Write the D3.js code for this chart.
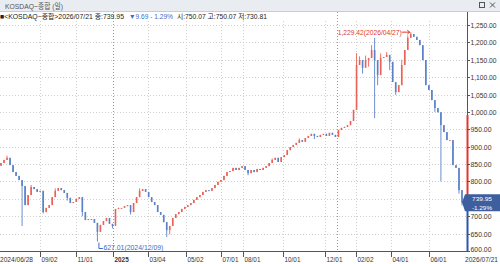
<!DOCTYPE html>
<html><head><meta charset="utf-8">
<script src="https://cdn.jsdelivr.net/npm/d3@7"></script>
<style>
html,body{margin:0;padding:0;background:#fff;overflow:hidden;}
svg{display:block;}
text{font-family:"Liberation Sans","Noto Sans CJK KR",sans-serif;}
</style></head><body>
<svg id="c" width="500" height="264"></svg>
<script>
// ---- data (periods of ~3.4 trading days, 2024/06/28 .. 2026/07/21) ----
const closes = [853,862,868,847,827,816,804,787,732,761,784,778,770,773,712,724,732,755,773,781,
775,767,753,738,741,750,755,712,689,692,692,681,655,675,686,695,678,672,721,724,
724,729,732,712,738,755,773,778,770,755,741,732,712,704,683,660,672,695,706,712,
721,727,732,738,747,755,761,770,775,773,781,790,799,804,816,827,830,839,833,839,
844,833,824,833,827,836,833,839,844,853,862,868,856,870,876,890,899,905,911,919,
914,925,931,937,931,928,934,937,931,940,934,928,948,954,957,962,974,1006,1135,1149,
1127,1149,1155,1178,1149,1106,1155,1158,1164,1144,1086,1057,1077,1135,1178,1213,1224,1216,1207,1192,
1149,1077,1063,1034,1011,999,962,942,919,919,847,839,775,739.95];
const firstOpen = 845;
const spikeHighs = [[2,874],[10,790],[18,780],[46,780],[90,866],[99,924],[118,1169],[119,1160],[121,1162],
  [123,1192],[124,1213],[126,1168],[128,1172],[133,1150],[135,1220],[136,1229.42],[141,1100],[146,975],[150,905]];
const spikeLows = [[7,672],[14,708],[22,745],[27,700],[32,627.01],[37,665],[43,705],[55,640],[56,648],
  [82,818],[104,922],[120,1110],[122,1130],[124,982],[125,1077],[129,1120],[131,1049],[144,1000],[146,800],[152,765],[153,730.81]];
const yTicks = [600,650,700,750,800,850,900,950,1000,1050,1100,1150,1200,1250];
const xTickLabels = ["09/02","11/01","2025","03/04","05/02","07/01","08/01","10/01","12/01","02/02","04/01","06/01"];
const xTickPos = [12.94,24.89,37.17,48.79,61.40,73.02,80.32,93.59,107.53,117.82,129.44,142.05];
const yearLinePos = [37.17,111.52];
const firstDateLabel = "2024/06/28";
const lastDateLabel = "2026/07/21";
const highPoint = {idx:136, value:1229.42, label:"1,229.42(2026/04/27)"};
const lowPoint = {idx:32, value:627.01, label:"627.01(2024/12/09)"};
const lastClose = 739.95, lastPct = "-1.29%";
const axisRedFrom = 991;
const titleText = "KOSDAQ\u2212종합 (일)";
const infoParts = [["■<KOSDAQ\u2212종합>2026/07/21 종:739.95","#222"],["▼9.69 - 1.29%","#3a6cc8"],["시:750.07 고:750.07 저:730.81","#222"]];

// ---- drawing ----
const svg = d3.select("#c");
const N = closes.length;
const x = d3.scaleLinear().domain([0, N-1]).range([1, 462]);
const y = d3.scaleLinear().domain([600, 1250]).range([251, 25]);
const AX = 467;
const red = "#ea6155", blue = "#5a80c8";
function fit(sel, w){ sel.attr("textLength", w).attr("lengthAdjust","spacingAndGlyphs"); }
function condense(sel, f){ sel.each(function(){ const w=this.getComputedTextLength(); d3.select(this).attr("textLength", w*f).attr("lengthAdjust","spacingAndGlyphs"); }); }

// header bar
svg.append("rect").attr("x",0).attr("y",0).attr("width",500).attr("height",11).attr("fill","#e9ecf0");
svg.append("line").attr("x1",0).attr("x2",500).attr("y1",11.5).attr("y2",11.5).attr("stroke","#c9cdd3");
svg.append("text").attr("x",5).attr("y",8.5).attr("font-size",7.5).attr("fill","#555").text(titleText).call(fit,58);
svg.append("rect").attr("x",479.5).attr("y",2.5).attr("width",5).attr("height",5).attr("fill","none").attr("stroke","#555");
svg.append("path").attr("d","M490,2.5L495,7.5M495,2.5L490,7.5").attr("stroke","#555").attr("stroke-width",1);

// grid
const gGrid = svg.append("g");
gGrid.selectAll("line.h").data(yTicks.filter(v=>v>600)).join("line")
  .attr("x1",0).attr("x2",AX).attr("y1",d=>Math.round(y(d))+0.5).attr("y2",d=>Math.round(y(d))+0.5)
  .attr("stroke","#cfcfcf").attr("stroke-dasharray","1,2");
gGrid.selectAll("line.v").data(xTickPos).join("line")
  .attr("x1",d=>Math.round(x(d))+0.5).attr("x2",d=>Math.round(x(d))+0.5).attr("y1",21).attr("y2",251)
  .attr("stroke","#cfcfcf").attr("stroke-dasharray","1,2");
gGrid.selectAll("line.yr").data(yearLinePos).join("line")
  .attr("x1",d=>Math.round(x(d))+0.5).attr("x2",d=>Math.round(x(d))+0.5).attr("y1",12).attr("y2",251)
  .attr("stroke","#9a9a9a").attr("stroke-dasharray","1,2");

// info line (three pieces)
const infoX = [0,129,177], infoW = [124,44,90], infoFs = [7.2,7.2,7.2];
infoParts.forEach((p,i)=>{
  svg.append("text").attr("x",infoX[i]).attr("y",19).attr("font-size",infoFs[i]).attr("fill",p[1]).text(p[0]).call(fit,infoW[i]);
});

// candles
const hiMap = new Map(spikeHighs), loMap = new Map(spikeLows);
const bars = closes.map((c,i)=>{
  const o = i===0 ? firstOpen : closes[i-1];
  const hi = Math.max(o,c, hiMap.has(i)?hiMap.get(i):-Infinity);
  const lo = Math.min(o,c, loMap.has(i)?loMap.get(i):Infinity);
  return {i,o,c,hi,lo,up:c>=o};
});
const gB = svg.append("g");
gB.selectAll("line.w").data(bars).join("line")
  .attr("x1",d=>x(d.i)).attr("x2",d=>x(d.i)).attr("y1",d=>y(d.hi)).attr("y2",d=>y(d.lo))
  .attr("stroke",d=>d.up?red:blue).attr("stroke-width",0.9);
gB.selectAll("rect.b").data(bars).join("rect")
  .attr("x",d=>x(d.i)-0.8).attr("width",1.6)
  .attr("y",d=>y(Math.max(d.o,d.c))).attr("height",d=>Math.max(1,y(Math.min(d.o,d.c))-y(Math.max(d.o,d.c))))
  .attr("fill",d=>d.up?red:blue);

// x axis
svg.append("line").attr("x1",0).attr("x2",AX).attr("y1",251.5).attr("y2",251.5).attr("stroke","#555");
const gx = svg.append("g");
gx.selectAll("line").data(xTickPos).join("line")
  .attr("x1",d=>Math.round(x(d))+0.5).attr("x2",d=>Math.round(x(d))+0.5).attr("y1",252).attr("y2",257).attr("stroke","#555");
gx.selectAll("text").data(xTickLabels).join("text")
  .attr("x",(d,i)=>Math.round(x(xTickPos[i]))+1.5).attr("y",262).attr("font-size",7.5).attr("fill","#333")
  .attr("font-weight",d=>d==="2025"?"bold":"normal").text(d=>d).call(condense,0.85);
svg.append("text").attr("x",0).attr("y",262).attr("font-size",7).attr("fill","#333").text(firstDateLabel).call(fit,33);
svg.append("text").attr("x",465).attr("y",262).attr("font-size",6.6).attr("fill","#333").text(lastDateLabel).call(fit,33);

// y axis line with colored segments
svg.append("line").attr("x1",AX+0.5).attr("x2",AX+0.5).attr("y1",12).attr("y2",y(axisRedFrom)).attr("stroke","#555");
svg.append("line").attr("x1",AX+0.5).attr("x2",AX+0.5).attr("y1",y(axisRedFrom)).attr("y2",y(lastClose)).attr("stroke","#e0362b").attr("stroke-width",2);
svg.append("line").attr("x1",AX+0.5).attr("x2",AX+0.5).attr("y1",y(lastClose)).attr("y2",252).attr("stroke","#2a55b0").attr("stroke-width",2);
const cy = y(lastClose);
const visTicks = yTicks.filter(d=>Math.abs(y(d)-cy)>9);   // labels under the price box are hidden, as in the reference
const gy = svg.append("g");
gy.selectAll("line").data(yTicks).join("line")
  .attr("x1",AX).attr("x2",AX+3).attr("y1",d=>Math.round(y(d))+0.5).attr("y2",d=>Math.round(y(d))+0.5).attr("stroke","#555");
gy.selectAll("text").data(visTicks).join("text")
  .attr("x",AX+3.5).attr("y",d=>d===600?y(d)+1:y(d)+3).attr("font-size",7.5).attr("fill","#333")
  .text(d=>d3.format(",.2f")(d)).each(function(d){ d3.select(this).call(fit, d>=1000?26:21); });

// current price box
svg.append("path").attr("d",`M${AX-5},${cy} L${AX-2},${cy-8} L500,${cy-8} L500,${cy+9} L${AX-2},${cy+9} Z`).attr("fill","#3d5f9f");
svg.append("text").attr("x",472).attr("y",cy-1).attr("font-size",5.8).attr("fill","#fff").text(d3.format(".2f")(lastClose)).call(fit,20);
svg.append("text").attr("x",472).attr("y",cy+7.6).attr("font-size",5.8).attr("fill","#fff").text(lastPct).call(fit,20);

// high marker
const hx = x(highPoint.idx), hy = y(highPoint.value);
svg.append("text").attr("x",hx-9).attr("y",hy+2.5).attr("text-anchor","end").attr("font-size",8).attr("fill","#e0392e").text(highPoint.label).call(fit,64);
svg.append("path").attr("d",`M${hx-9},${hy}L${hx-1},${hy}M${hx-3.5},${hy-2}L${hx-1},${hy}L${hx-3.5},${hy+2}`).attr("stroke","#e0392e").attr("fill","none");

// low marker
const lx = x(lowPoint.idx)+1.5, ly = y(lowPoint.value);
svg.append("path").attr("d",`M${lx},${ly+1}L${lx},${248.5}L${lx+4},${248.5}`).attr("stroke","#3a6cc8").attr("fill","none");
svg.append("text").attr("x",lx+4.5).attr("y",250).attr("font-size",7.5).attr("fill","#3a6cc8").text(lowPoint.label).call(fit,60);
</script>
</body></html>
